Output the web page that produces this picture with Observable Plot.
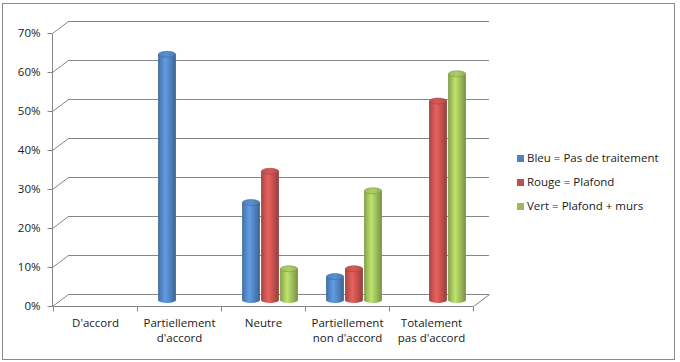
<!DOCTYPE html>
<html><head><meta charset="utf-8">
<script src="https://cdn.jsdelivr.net/npm/d3@7"></script>
<script src="https://cdn.jsdelivr.net/npm/@observablehq/plot@0.6"></script>
<style>
body{margin:0;background:#fff;}
#wrap{position:relative;width:680px;height:362px;overflow:hidden;font-family:"Open Sans",sans-serif;color:#1a1a1a;}
#frame{position:absolute;left:2px;top:3px;width:673px;height:357px;box-sizing:border-box;border:1px solid #8a8a8a;}
#chart{position:absolute;left:0;top:0;}
#legend{position:absolute;left:517px;top:149px;font-size:11.5px;}
.item{position:relative;height:24px;line-height:18px;white-space:nowrap;}
.sw{display:inline-block;width:7px;height:7px;margin-right:3px;vertical-align:0px;}
</style></head><body>
<div id="wrap"><div id="frame"></div><div id="chart"></div><div id="legend"></div></div>
<script>
const categories = ["D'accord", "Partiellement d'accord", "Neutre", "Partiellement non d'accord", "Totalement pas d'accord"];
const categoryLabels = ["D'accord", "Partiellement\nd'accord", "Neutre", "Partiellement\nnon d'accord", "Totalement\npas d'accord"];
const seriesNames = ["Bleu = Pas de traitement", "Rouge = Plafond", "Vert = Plafond + murs"];
const bleu  = [0, 0.63, 0.25, 0.06, 0];
const rouge = [0, 0,    0.33, 0.08, 0.51];
const vert  = [0, 0,    0.08, 0.28, 0.58];
const yTicks = [0, 0.1, 0.2, 0.3, 0.4, 0.5, 0.6, 0.7];
const colors = ["#4F81BD", "#C0504D", "#9BBB59"];

const seriesValues = [bleu, rouge, vert];
const rows = [];
seriesValues.forEach((vals, s) => vals.forEach((v, i) => rows.push({category: categories[i], series: seriesNames[s], s, value: v})));
const shown = rows.filter(r => r.value > 0);

const gray = "#868686";
const DX = 16, DY = -12;        // depth of the back wall
const BDX = 7, BDY = -6;        // depth of the cylinders
const STEP = 19, BW = 18, RY = 3;

function defs() {
  const g = d3.create("svg:g");
  const d = g.append("defs");
  colors.forEach((c, s) => {
    const base = d3.color(c);
    const lg = d.append("linearGradient").attr("id", "cyl" + s).attr("x1", 0).attr("x2", 1).attr("y1", 0).attr("y2", 0);
    [[0, base.darker(0.55)], [0.15, base], [0.4, base.brighter(0.55)], [0.7, base], [1, base.darker(0.75)]]
      .forEach(([o, col]) => lg.append("stop").attr("offset", o).attr("stop-color", col.formatHex()));
    const tg = d.append("linearGradient").attr("id", "top" + s).attr("x1", 0).attr("x2", 1).attr("y1", 0).attr("y2", 0);
    [[0, base], [0.5, base.brighter(0.3)], [1, base.darker(0.2)]]
      .forEach(([o, col]) => tg.append("stop").attr("offset", o).attr("stop-color", col.formatHex()));
  });
  return g.node();
}

function cx(scales, dims, r) {
  const x = scales.x;
  const bw = x.bandwidth ? x.bandwidth() : (dims.width - dims.marginLeft - dims.marginRight) / categories.length;
  return x(r.category) + bw / 2 + BDX + (r.s - 1) * STEP;
}

function bottoms(index, scales, values, dims) {
  const g = d3.create("svg:g");
  shown.forEach(r => {
    g.append("ellipse").attr("cx", cx(scales, dims, r)).attr("cy", scales.y(0) + BDY)
      .attr("rx", BW / 2).attr("ry", RY).attr("fill", `url(#cyl${r.s})`);
  });
  return g.node();
}

function tops(index, scales, values, dims) {
  const g = d3.create("svg:g");
  shown.forEach(r => {
    const base = d3.color(colors[r.s]);
    g.append("ellipse").attr("cx", cx(scales, dims, r)).attr("cy", scales.y(r.value) + BDY)
      .attr("rx", BW / 2 - 0.3).attr("ry", RY).attr("fill", `url(#top${r.s})`)
      .attr("stroke", base.darker(0.6).formatHex()).attr("stroke-width", 0.6);
  });
  return g.node();
}

function wall(index, scales, values, dims) {
  const y = scales.y, x = scales.x;
  const x0 = dims.marginLeft, x1 = dims.width - dims.marginRight;
  const g = d3.create("svg:g").attr("fill", "none").attr("stroke", gray).attr("transform", "translate(0.5,0.5)");
  const line = (a, b, c, d) => g.append("line").attr("x1", a).attr("y1", b).attr("x2", c).attr("y2", d);
  line(x0, Math.round(y(0.7)), x0, Math.round(y(0)));
  yTicks.forEach(t => {
    const yy = Math.round(y(t));
    line(x0, yy, x0 + DX, yy + DY);
    line(x0 - 5, yy, x0, yy);
  });
  const y0 = Math.round(y(0));
  line(x0, y0, x1, y0);
  line(x1, y0, x1 + DX, y0 + DY);
  categories.forEach(c => { const xx = Math.round(x(c)); line(xx, y0, xx, y0 + 5); });
  line(x1, y0, x1, y0 + 5);
  return g.node();
}

const marks = [
  defs,
  Plot.ruleY(yTicks, {y: d => d, dx: DX, dy: DY, stroke: gray, strokeOpacity: 1}),
  wall,
  bottoms
];
[0, 1, 2].forEach(s => {
  marks.push(Plot.barY(shown.filter(r => r.s === s), {
    x: "category", y: "value", fill: `url(#cyl${s})`,
    insetLeft: 33.1, insetRight: 33.1, dx: BDX + (s - 1) * STEP, dy: BDY
  }));
});
marks.push(tops);
marks.push(Plot.text(yTicks, {y: d => d, text: d => Math.round(d * 100) + "%", frameAnchor: "left", textAnchor: "end", dx: -12, fontSize: 11.5, fill: "#1a1a1a"}));
marks.push(Plot.text(categories, {x: d => d, text: (d, i) => categoryLabels[i], frameAnchor: "bottom", lineAnchor: "top", dy: 10, lineHeight: 1.3, fontSize: 11.5, fill: "#1a1a1a"}));

const chart = Plot.plot({
  width: 680, height: 362,
  marginLeft: 52, marginRight: 207, marginTop: 33, marginBottom: 56,
  x: {type: "band", domain: categories, padding: 0, axis: null},
  y: {domain: [0, 0.7], axis: null},
  style: {background: "transparent", fontFamily: "'Open Sans', sans-serif", overflow: "visible"},
  marks
});
document.getElementById("chart").appendChild(chart);

const legend = document.getElementById("legend");
seriesNames.forEach((n, s) => {
  const it = document.createElement("div");
  it.className = "item";
  it.innerHTML = `<span class="sw" style="background:${colors[s]}"></span>${n}`;
  legend.appendChild(it);
});
</script>
</body></html>
